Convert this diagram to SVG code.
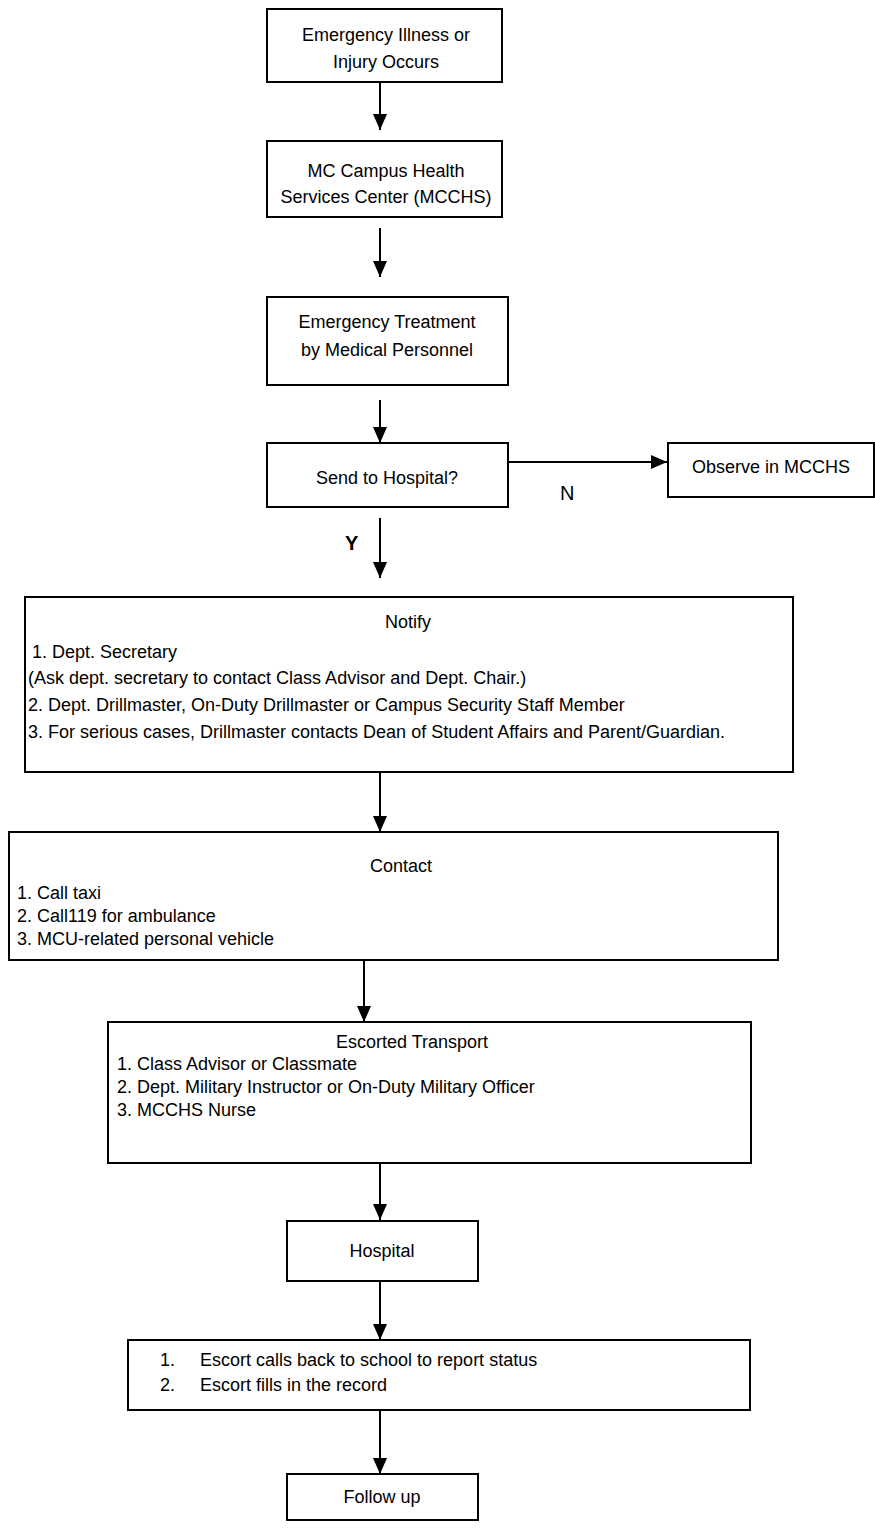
<svg xmlns="http://www.w3.org/2000/svg" width="875" height="1528" viewBox="0 0 875 1528">
<style>
.box{fill:#fff;stroke:#000;stroke-width:2}
.t{font-family:"Liberation Sans",Arial,sans-serif;font-size:18px;fill:#000}
.c{text-anchor:middle}
.big{font-size:18px}
.lbl{font-family:"Liberation Sans",Arial,sans-serif;font-size:20px;fill:#000}
.b{font-weight:bold}
.con{stroke:#000;stroke-width:2;fill:none}
</style>
<defs>
<marker id="ah" markerUnits="userSpaceOnUse" markerWidth="16" markerHeight="14" refX="16" refY="7" orient="auto">
<path d="M0,0 L16,7 L0,14 z" fill="#000"/>
</marker>
</defs>
<rect width="875" height="1528" fill="#fff"/>
<g id="connectors">
<line class="con" x1="380" y1="82" x2="380" y2="130" marker-end="url(#ah)"/>
<line class="con" x1="380" y1="228" x2="380" y2="277" marker-end="url(#ah)"/>
<line class="con" x1="380" y1="400" x2="380" y2="443" marker-end="url(#ah)"/>
<line class="con" x1="508" y1="462" x2="667" y2="462" marker-end="url(#ah)"/>
<line class="con" x1="380" y1="518" x2="380" y2="578" marker-end="url(#ah)"/>
<line class="con" x1="380" y1="772" x2="380" y2="832" marker-end="url(#ah)"/>
<line class="con" x1="364" y1="960" x2="364" y2="1022" marker-end="url(#ah)"/>
<line class="con" x1="380" y1="1163" x2="380" y2="1220" marker-end="url(#ah)"/>
<line class="con" x1="380" y1="1281" x2="380" y2="1340" marker-end="url(#ah)"/>
<line class="con" x1="380" y1="1410" x2="380" y2="1474" marker-end="url(#ah)"/>
<text class="lbl" x="560" y="500">N</text>
<text class="lbl b" x="345" y="550">Y</text>
</g>
<g id="n1">
<rect class="box" x="267" y="9" width="235" height="73"/>
<text class="t big c" x="386" y="41">Emergency Illness or</text>
<text class="t big c" x="386" y="68">Injury Occurs</text>
</g>
<g id="n2">
<rect class="box" x="267" y="141" width="235" height="76"/>
<text class="t big c" x="386" y="177">MC Campus Health</text>
<text class="t big c" x="386" y="203">Services Center (MCCHS)</text>
</g>
<g id="n3">
<rect class="box" x="267" y="297" width="241" height="88"/>
<text class="t big c" x="387" y="328">Emergency Treatment</text>
<text class="t big c" x="387" y="356">by Medical Personnel</text>
</g>
<g id="n4">
<rect class="box" x="267" y="443" width="241" height="64"/>
<text class="t big c" x="387" y="484">Send to Hospital?</text>
</g>
<g id="n5">
<rect class="box" x="668" y="443" width="206" height="54"/>
<text class="t big" x="692" y="473">Observe in MCCHS</text>
</g>
<g id="n6">
<rect class="box" x="25" y="597" width="768" height="175"/>
<text class="t c" x="408" y="628">Notify</text>
<text class="t" x="32" y="658">1.  Dept. Secretary</text>
<text class="t" x="28" y="684">(Ask dept. secretary to contact Class Advisor and Dept. Chair.)</text>
<text class="t" x="28" y="711">2. Dept. Drillmaster, On-Duty Drillmaster or Campus Security Staff Member</text>
<text class="t" x="28" y="738">3. For serious cases, Drillmaster contacts Dean of Student Affairs and Parent/Guardian.</text>
</g>
<g id="n7">
<rect class="box" x="9" y="832" width="769" height="128"/>
<text class="t c" x="401" y="872">Contact</text>
<text class="t" x="17" y="899">1. Call taxi</text>
<text class="t" x="17" y="922">2. Call119 for ambulance</text>
<text class="t" x="17" y="945">3. MCU-related personal vehicle</text>
</g>
<g id="n8">
<rect class="box" x="108" y="1022" width="643" height="141"/>
<text class="t c" x="412" y="1048">Escorted Transport</text>
<text class="t" x="117" y="1070">1. Class Advisor or Classmate</text>
<text class="t" x="117" y="1093">2. Dept. Military Instructor or On-Duty Military Officer</text>
<text class="t" x="117" y="1116">3. MCCHS Nurse</text>
</g>
<g id="n9">
<rect class="box" x="287" y="1221" width="191" height="60"/>
<text class="t c" x="382" y="1257">Hospital</text>
</g>
<g id="n10">
<rect class="box" x="128" y="1340" width="622" height="70"/>
<text class="t" x="160" y="1366">1.</text>
<text class="t" x="200" y="1366">Escort calls back to school to report status</text>
<text class="t" x="160" y="1391">2.</text>
<text class="t" x="200" y="1391">Escort fills in the record</text>
</g>
<g id="n11">
<rect class="box" x="287" y="1474" width="191" height="46"/>
<text class="t c" x="382" y="1503">Follow up</text>
</g>
</svg>
